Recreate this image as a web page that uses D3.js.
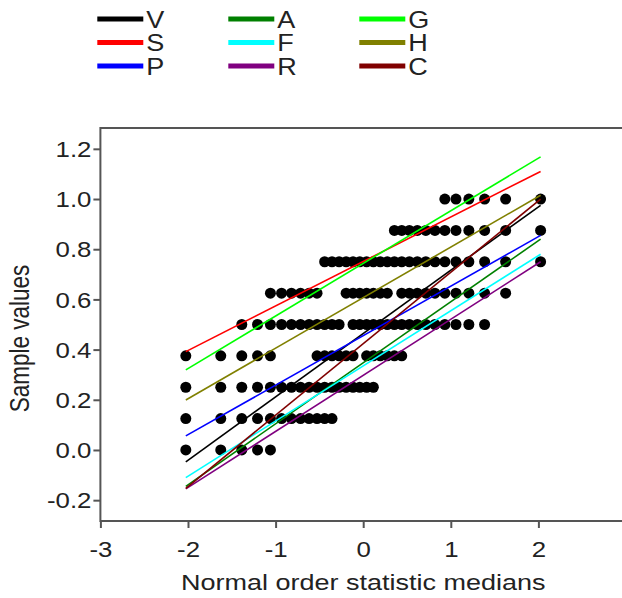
<!DOCTYPE html>
<html><head><meta charset="utf-8">
<script src="https://cdn.jsdelivr.net/npm/d3@7"></script>
<style>body{margin:0;background:#fff}</style>
</head><body><svg id="c" width="622" height="598"></svg>
<script>
// ---- data ----
const seriesNames  = ["V","S","P","A","F","R","G","H","C"];
const seriesColors = ["#000000","#ff0000","#0000ff","#008000","#00ffff","#800080","#00ff00","#808000","#800000"];
// fitted line values at the first and last order-statistic median
const lineStart = [-0.047, 0.392, 0.056, -0.145, -0.110, -0.155, 0.319, 0.199, -0.153];
const lineEnd   = [ 0.975, 1.110, 0.855,  0.840,  0.780,  0.750, 1.168, 1.015,  1.000];
// normal order statistic medians (n = 32)
const orderMedians = [-2.025,-1.626,-1.386,-1.206,-1.059,-0.932,-0.819,-0.715,-0.618,-0.527,-0.440,-0.356,-0.275,-0.195,-0.116,-0.039,
                       0.039, 0.116, 0.195, 0.275, 0.356, 0.440, 0.527, 0.618, 0.715, 0.819, 0.932, 1.059, 1.206, 1.386, 1.626, 2.025];
// sample value levels and the ranks (1-based) at which a point is plotted
const valueLevels = [0, 0.125, 0.25, 0.375, 0.5, 0.625, 0.75, 0.875, 1.0];
const levelRanks = [
  [1,2,3,4,5],
  [1,2,3,4,5,6,7,8,9,10,11,12],
  [1,2,3,4,5,6,7,8,9,10,11,12,13,14,15,16,17,18],
  [1,2,3,4,5,10,11,12,13,14,15,17,18,19,20,21,22],
  [3,4,5,6,7,8,9,10,11,12,13,15,16,17,18,19,20,21,22,23,24,25,26,27,28,29,30],
  [5,6,7,8,9,10,14,15,16,17,18,19,20,22,23,24,25,26,27,28,29,30,31],
  [11,12,13,14,15,16,17,18,19,20,21,22,23,24,25,26,27,28,29,30,31,32],
  [21,22,23,24,25,26,27,28,29,30,31,32],
  [27,28,29,30,31,32]
];
const xTicks = [-3,-2,-1,0,1,2];
const yTicks = [-0.2,0,0.2,0.4,0.6,0.8,1.0,1.2];
const xTitle = "Normal order statistic medians";
const yTitle = "Sample values";

// ---- drawing ----
const svg = d3.select("#c");
const FONT = "'Liberation Sans', Arial, sans-serif";
const SX = 1.2;               // horizontal glyph stretch seen in the reference
const axisColor = "#555555";
const x = d3.scaleLinear().domain([-3, 3]).range([100.4, 626]);
const y = d3.scaleLinear().domain([-0.283, 1.283]).range([521, 128]);

// frame
svg.append("rect")
  .attr("x", x(-3)).attr("y", y(1.283))
  .attr("width", x(3) - x(-3)).attr("height", y(-0.283) - y(1.283))
  .attr("fill", "none").attr("stroke", axisColor).attr("stroke-width", 2);

// y axis
const gy = svg.append("g").attr("transform", `translate(${x(-3)},0)`)
  .call(d3.axisLeft(y).tickValues(yTicks).tickSize(7).tickFormat(""));
gy.select(".domain").remove();
gy.selectAll(".tick line").attr("stroke", axisColor).attr("stroke-width", 2);
gy.selectAll(".tick").append("text")
  .attr("transform", `translate(-9,0) scale(${SX},1)`)
  .attr("text-anchor", "end").attr("dy", "0.36em")
  .attr("fill", "#222").attr("font-family", FONT).attr("font-size", 21.5)
  .text(d => d.toFixed(1));

// x axis
const gx = svg.append("g").attr("transform", `translate(0,${y(-0.283)})`)
  .call(d3.axisBottom(x).tickValues(xTicks).tickSize(7).tickFormat(""));
gx.select(".domain").remove();
gx.selectAll(".tick line").attr("stroke", axisColor).attr("stroke-width", 2);
gx.selectAll(".tick").append("text")
  .attr("transform", `translate(0,36) scale(${SX},1)`)
  .attr("text-anchor", "middle")
  .attr("fill", "#222").attr("font-family", FONT).attr("font-size", 21.5)
  .text(d => String(d));

// titles
svg.append("text")
  .attr("transform", `translate(${x(0)},590) scale(${SX},1)`)
  .attr("text-anchor", "middle").attr("fill", "#222")
  .attr("font-family", FONT).attr("font-size", 22.5).text(xTitle);
svg.append("text")
  .attr("transform", `translate(29,${(y(-0.283) + y(1.283)) / 2 + 14}) scale(${SX},1) rotate(-90)`)
  .attr("text-anchor", "middle").attr("fill", "#222")
  .attr("font-family", FONT).attr("font-size", 22.5).text(yTitle);

// points
const points = [];
valueLevels.forEach((v, li) => levelRanks[li].forEach(r => points.push({z: orderMedians[r - 1], v})));
svg.append("g").selectAll("circle").data(points).join("circle")
  .attr("cx", d => x(d.z)).attr("cy", d => y(d.v)).attr("r", 5.5).attr("fill", "#000");

// fitted lines
const zFirst = orderMedians[0], zLast = orderMedians[orderMedians.length - 1];
svg.append("g").selectAll("line").data(seriesNames).join("line")
  .attr("x1", x(zFirst)).attr("x2", x(zLast))
  .attr("y1", (d, i) => y(lineStart[i])).attr("y2", (d, i) => y(lineEnd[i]))
  .attr("stroke", (d, i) => seriesColors[i]).attr("stroke-width", 1.6);

// legend (column-major, 3 per column)
const legCols = [97.3, 228.3, 359.3], legRows = [19, 42.5, 66];
const lg = svg.append("g").selectAll("g").data(seriesNames).join("g")
  .attr("transform", (d, i) => `translate(${legCols[Math.floor(i / 3)]},${legRows[i % 3]})`);
lg.append("line").attr("x1", 0).attr("x2", 46).attr("y1", 0).attr("y2", 0)
  .attr("stroke", (d, i) => seriesColors[i]).attr("stroke-width", 5);
lg.append("text")
  .attr("transform", `translate(49,8.5) scale(1.15,1)`)
  .attr("fill", "#222").attr("font-family", FONT).attr("font-size", 23.5)
  .text(d => d);
</script>
</body></html>
